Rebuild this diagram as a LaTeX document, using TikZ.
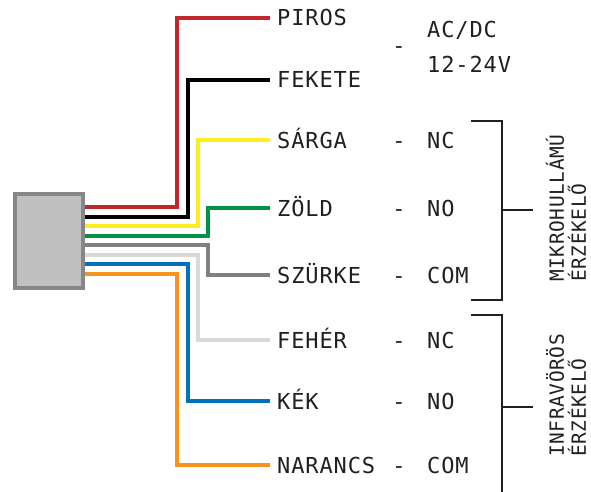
\documentclass[tikz,border=0pt]{standalone}
\usepackage{fontspec}
\newfontfamily\cimkefont[LetterSpace=4]{DejaVu Sans Mono}
\newfontfamily\oldalfont[LetterSpace=3]{DejaVu Sans Mono}
\definecolor{tinta}{HTML}{231F20}
\definecolor{pirosc}{HTML}{C1272D}
\definecolor{feketec}{HTML}{000000}
\definecolor{sargac}{HTML}{FCEE21}
\definecolor{zoldc}{HTML}{009245}
\definecolor{szurkec}{HTML}{808080}
\definecolor{feherc}{HTML}{D9D9D9}
\definecolor{kekc}{HTML}{0071BC}
\definecolor{narancsc}{HTML}{F7931E}
\definecolor{dobozkeret}{HTML}{878787}
\definecolor{dobozbel}{HTML}{C0C0C0}
\begin{document}
\begin{tikzpicture}[x=1pt, y=-1pt, line join=miter,
	wire/.style={line width=4pt},
	cimke/.style={anchor=west, inner xsep=7pt, inner ysep=0pt, text height=16pt, text depth=0pt,
		text=tinta, font=\cimkefont\fontsize{22}{26}\selectfont},
	funkcio/.style={cimke, inner xsep=0pt},
	jel/.style={cimke, anchor=center, inner xsep=0pt},
	oldal/.style={anchor=west, rotate=90, align=left, inner sep=0pt, text=tinta,
		font=\oldalfont\fontsize{19.5}{22}\selectfont},
	zarojel/.style={line width=2.5pt, draw=tinta}]
	\useasboundingbox (0,0) rectangle (591,492);
	% csatlakozó
	\node[draw=dobozkeret, fill=dobozbel, line width=4pt, minimum width=68pt,
		minimum height=94pt, inner sep=0pt] (doboz) at (49,241) {};
	% vezetékek színei
	\node[cimke] (piros) at (270,18) {PIROS};
	\node[cimke] (fekete) at (270,80) {FEKETE};
	\node[cimke] (sarga) at (270,140) {SÁRGA};
	\node[cimke] (zold) at (270,208) {ZÖLD};
	\node[cimke] (szurke) at (270,275) {SZÜRKE};
	\node[cimke] (feher) at (270,340) {FEHÉR};
	\node[cimke] (kek) at (270,401) {KÉK};
	\node[cimke] (narancs) at (270,465) {NARANCS};
	\foreach \nev/\szin/\xk/\ye in {piros/pirosc/177/207, fekete/feketec/187.5/216.5,
		sarga/sargac/197.5/226, zold/zoldc/207.5/235.5, szurke/szurkec/207.5/245,
		feher/feherc/197.5/254.5, kek/kekc/187.5/264, narancs/narancsc/177/273.5}
		\draw[wire,\szin] (doboz.east |- 0,\ye) -| (\xk,0 |- \nev.west) -- (\nev.west);
	% tápfeszültség
	\node[jel] (jt) at (399,46) {-};
	\node[funkcio] (acdc) at (427,30) {AC/DC};
	\node[funkcio] (fesz) at (427,65) {12-24V};
	% kimenetek
	\foreach \nev/\fn in {sarga/NC, zold/NO, szurke/COM, feher/NC, kek/NO, narancs/COM} {
		\node[jel] (j\nev) at (399,0 |- \nev.west) {-};
		\node[funkcio] (f\nev) at (427,0 |- \nev.west) {\fn};
	}
	% érzékelők
	\draw[zarojel] (471,121) -| (502,300) -- (471,300);
	\draw[zarojel] (502,210) -- (533,210);
	\draw[zarojel] (471,315) -| (502,492);
	\draw[zarojel] (502,407) -- (533,407);
	\node[oldal] (mikro) at (566,282) {MIKROHULLÁMÚ\\ÉRZÉKELŐ};
	\node[oldal] (infra) at (566,457) {INFRAVÖRÖS\\ÉRZÉKELŐ};
\end{tikzpicture}
\end{document}
